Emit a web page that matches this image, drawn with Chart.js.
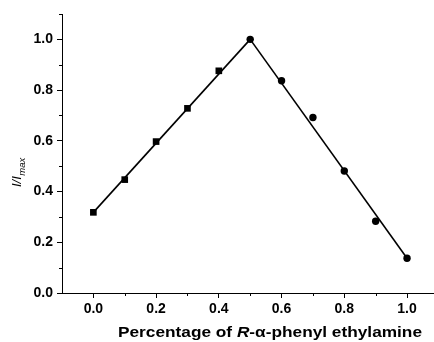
<!DOCTYPE html>
<html>
<head>
<meta charset="utf-8">
<script src="https://cdn.jsdelivr.net/npm/chart.js@4/dist/chart.umd.min.js"></script>
<style>
  html, body { margin: 0; padding: 0; background: #fff; }
  #wrap { width: 434px; height: 342px; position: relative; }
</style>
</head>
<body>
<div id="wrap"><canvas id="c"></canvas></div>
<script>
// Fraction of the R enantiomer and normalised intensity I/Imax
const squareX = [0.0, 0.1, 0.2, 0.3, 0.4];
const squareY = [0.318, 0.447, 0.597, 0.728, 0.876];
const circleX = [0.5, 0.6, 0.7, 0.8, 0.9, 1.0];
const circleY = [1.0, 0.837, 0.692, 0.481, 0.283, 0.137];

// Linear fits of the rising and falling branches (end points)
const riseFitX = [0.0, 0.5];
const riseFitY = [0.318, 1.0];
const fallFitX = [0.5, 1.0];
const fallFitY = [1.0, 0.137];

// Axis ticks (major ones carry labels)
const xTicks = [0.0, 0.1, 0.2, 0.3, 0.4, 0.5, 0.6, 0.7, 0.8, 0.9, 1.0];
const yTicks = [0.0, 0.1, 0.2, 0.3, 0.4, 0.5, 0.6, 0.7, 0.8, 0.9, 1.0, 1.1];

const pts = (xs, ys) => xs.map((x, i) => ({ x: x, y: ys[i] }));
const isMajor = v => Math.round(v * 10) % 2 === 0;
const FONT = '"Liberation Sans", Arial, sans-serif';

// Short minor ticks and the two axis titles
const decor = {
  id: 'decor',
  afterDraw(chart) {
    const ctx = chart.ctx;
    const xs = chart.scales.x, ys = chart.scales.y;
    ctx.save();
    ctx.strokeStyle = '#000';
    ctx.lineWidth = 1;
    ctx.beginPath();
    xTicks.filter(v => !isMajor(v)).forEach(v => {
      const px = Math.round(xs.getPixelForValue(v)) + 0.5;
      ctx.moveTo(px, xs.top);
      ctx.lineTo(px, xs.top + 3);
    });
    yTicks.filter(v => !isMajor(v)).forEach(v => {
      const py = Math.round(ys.getPixelForValue(v)) + 0.5;
      ctx.moveTo(ys.right, py);
      ctx.lineTo(ys.right - 3, py);
    });
    ctx.stroke();

    // x title with italic R and alpha, set in a wide bold face
    const parts = [
      { t: 'Percentage of ', f: 'bold 15px ' + FONT },
      { t: 'R', f: 'italic bold 15px ' + FONT },
      { t: '-\u03b1-phenyl ethylamine', f: 'bold 15px ' + FONT }
    ];
    let total = 0;
    parts.forEach(p => { ctx.font = p.f; p.w = ctx.measureText(p.t).width; total += p.w; });
    ctx.save();
    ctx.translate(270, 337);
    ctx.scale(304 / total, 1);
    let x0 = -total / 2;
    ctx.fillStyle = '#000';
    ctx.textBaseline = 'alphabetic';
    ctx.textAlign = 'left';
    parts.forEach(p => { ctx.font = p.f; ctx.fillText(p.t, x0, 0); x0 += p.w; });
    ctx.restore();

    // y title I/I_max, rotated
    ctx.fillStyle = '#000';
    ctx.translate(21, 187);
    ctx.rotate(-Math.PI / 2);
    ctx.font = 'italic 13px ' + FONT;
    ctx.fillText('I/I', 0, 0);
    const w = ctx.measureText('I/I').width;
    ctx.font = 'italic 9.5px ' + FONT;
    ctx.fillText('max', w + 0.5, 3.5);
    ctx.restore();
  }
};

new Chart(document.getElementById('c'), {
  type: 'scatter',
  data: {
    datasets: [
      { data: pts(riseFitX, riseFitY), showLine: true, borderColor: '#000', borderWidth: 1.6, pointRadius: 0 },
      { data: pts(fallFitX, fallFitY), showLine: true, borderColor: '#000', borderWidth: 1.6, pointRadius: 0 },
      { data: pts(squareX, squareY), pointStyle: 'rect', pointRadius: 4.7, backgroundColor: '#000', borderColor: '#000', borderWidth: 0 },
      { data: pts(circleX, circleY), pointStyle: 'circle', pointRadius: 3.7, backgroundColor: '#000', borderColor: '#000', borderWidth: 0 }
    ]
  },
  options: {
    responsive: true,
    maintainAspectRatio: false,
    animation: false,
    layout: { autoPadding: false, padding: { top: 14, right: 0, left: 0, bottom: 0 } },
    plugins: { legend: { display: false }, tooltip: { enabled: false } },
    scales: {
      x: {
        type: 'linear',
        min: -0.1,
        max: 1.086,
        afterBuildTicks: s => { s.ticks = xTicks.map(v => ({ value: v })); },
        afterFit: s => { s.height = 49; s.paddingRight = 0; s.paddingLeft = 0; },
        border: { display: true, color: '#000', width: 1 },
        grid: {
          drawOnChartArea: false,
          drawTicks: true,
          tickLength: 5,
          tickColor: c => (c.tick && isMajor(c.tick.value)) ? '#000' : 'rgba(0,0,0,0)'
        },
        ticks: {
          autoSkip: false,
          maxRotation: 0,
          padding: 3,
          color: '#000',
          font: { family: FONT, size: 14, weight: 'bold' },
          callback: v => isMajor(v) ? v.toFixed(1) : ''
        }
      },
      y: {
        type: 'linear',
        min: 0,
        max: 1.1,
        afterBuildTicks: s => { s.ticks = yTicks.map(v => ({ value: v })); },
        afterFit: s => { s.width = 62; s.paddingTop = 0; s.paddingBottom = 0; },
        border: { display: true, color: '#000', width: 1 },
        grid: {
          drawOnChartArea: false,
          drawTicks: true,
          tickLength: 5,
          tickColor: c => (c.tick && isMajor(c.tick.value)) ? '#000' : 'rgba(0,0,0,0)'
        },
        ticks: {
          autoSkip: false,
          padding: 4,
          color: '#000',
          font: { family: FONT, size: 14, weight: 'bold' },
          callback: v => isMajor(v) ? v.toFixed(1) : ''
        }
      }
    }
  },
  plugins: [decor]
});
</script>
</body>
</html>
